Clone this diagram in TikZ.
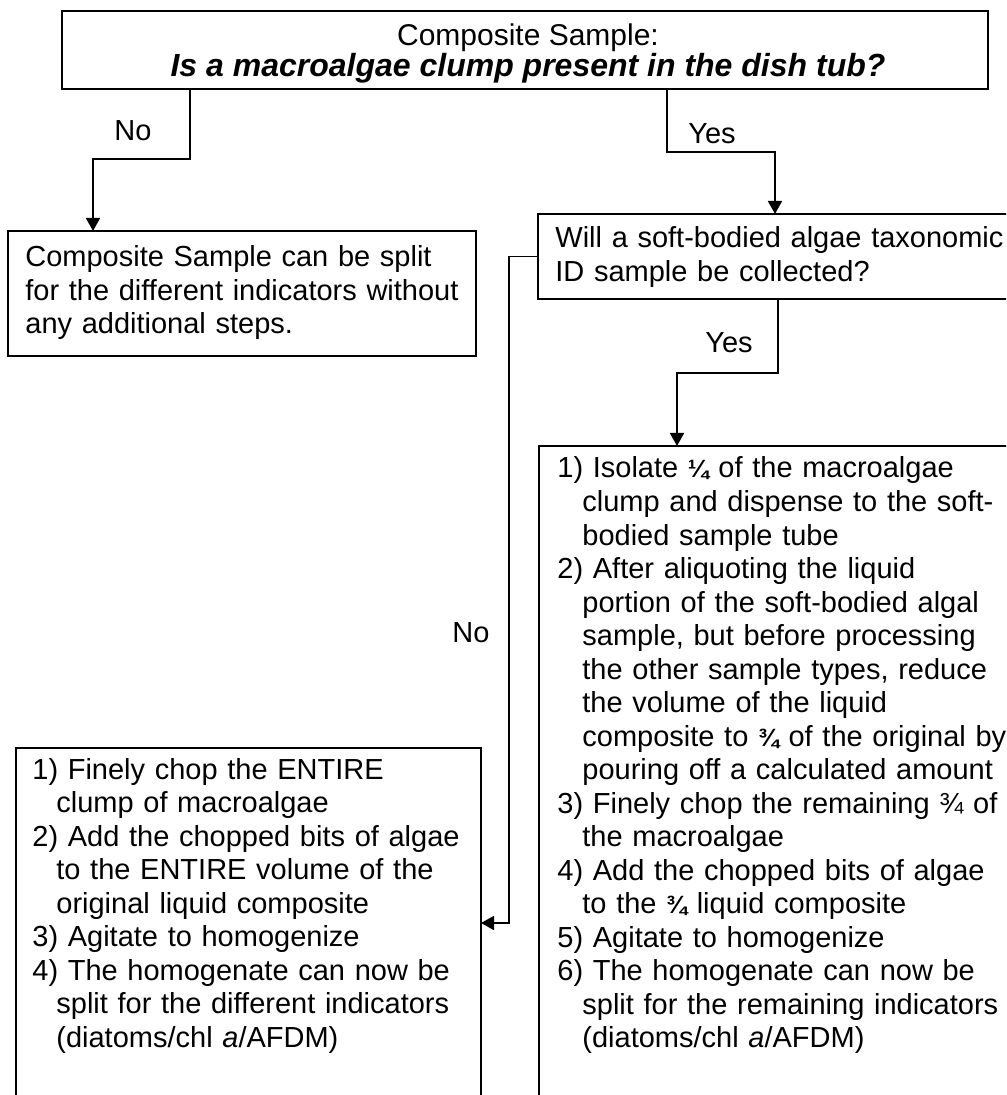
\documentclass[tikz,border=0pt]{standalone}
\usepackage{fontspec}
\setmainfont{Liberation Sans}
\usetikzlibrary{arrows.meta,calc}
\newcommand{\hgapR}{\hspace*{12.5pt}}
\newcommand{\hgapL}{\hspace*{12pt}}
\newcommand{\smfrac}[1]{{\bfseries\fontsize{12.5}{0}\selectfont #1}}
\begin{document}
\begin{tikzpicture}[x=0.5pt,y=-0.5pt,
  frame/.style={draw,line width=1pt,inner sep=0,outer sep=0,anchor=north west},
  conn/.style={line width=0.85pt},
  arr/.style={conn,-{Triangle[length=6.5pt,width=7pt]}},
  body/.style={inner sep=0,anchor=base west,align=left,text width=#1,
    font=\fontsize{14.5}{16.75}\selectfont},
  lab/.style={inner sep=0,font=\fontsize{14.5}{16.75}\selectfont}]
\useasboundingbox (0,0) rectangle (1006,1095);
\clip (0,0) rectangle (1006,1095);

% boxes
\node[frame,line width=1.2pt,minimum width=463pt,minimum height=39pt] (top) at (62,11) {};
\node[inner sep=0,align=center,font=\fontsize{15}{15.5}\selectfont] (topt)
  at ($(top.center)+(3,3)$)
  {Composite Sample:\\{\fontsize{16}{15.5}\selectfont\bfseries\itshape Is a macroalgae clump present in the dish tub?}};

\node[frame,minimum width=234pt,minimum height=62.5pt] (A) at (8,231) {};
\node[body=230pt] (At) at (25,267)
  {Composite Sample can be split\\for the different indicators without\\any additional steps.};

\node[frame,minimum width=250pt,minimum height=42.5pt] (B) at (538,214) {};
\node[body=240pt] (Bt) at (555,248)
  {Will a soft-bodied algae taxonomic\\ID sample be collected?};

\node[frame,minimum width=250pt,minimum height=340pt] (C) at (539,446) {};
\node[body=300pt] (Ct) at (557,478)
  {1) Isolate \smfrac{¼} of the macroalgae\\
   \hgapR clump and dispense to the soft-\\
   \hgapR bodied sample tube\\
   2) After aliquoting the liquid\\
   \hgapR portion of the soft-bodied algal\\
   \hgapR sample, but before processing\\
   \hgapR the other sample types, reduce\\
   \hgapR the volume of the liquid\\
   \hgapR composite to \smfrac{¾} of the original by\\
   \hgapR pouring off a calculated amount\\
   3) Finely chop the remaining ¾ of\\
   \hgapR the macroalgae\\
   4) Add the chopped bits of algae\\
   \hgapR to the \smfrac{¾} liquid composite\\
   5) Agitate to homogenize\\
   6) The homogenate can now be\\
   \hgapR split for the remaining indicators\\
   \hgapR (diatoms/chl \textit{a}/AFDM)};

\node[frame,minimum width=232.5pt,minimum height=190pt] (D) at (16,748) {};
\node[body=300pt] (Dt) at (32,779)
  {1) Finely chop the ENTIRE\\
   \hgapL clump of macroalgae\\
   2) Add the chopped bits of algae\\
   \hgapL to the ENTIRE volume of the\\
   \hgapL original liquid composite\\
   3) Agitate to homogenize\\
   4) The homogenate can now be\\
   \hgapL split for the different indicators\\
   \hgapL (diatoms/chl \textit{a}/AFDM)};

% connectors
\draw[arr] ($(top.south west)+(128,0)$) -- ++(0,70) -| ($(A.north west)+(85,0)$);
\draw[arr] ($(top.south west)+(605,0)$) -- ++(0,63) -| ($(B.north west)+(237,0)$);
\draw[arr] ($(B.south west)+(240,0)$) -- ++(0,74) -| ($(C.north west)+(138,0)$);
\draw[arr] (B.west) -| ($(D.north east)+(28,175)$) -- ($(D.north east)+(0,175)$);

% labels
\node[lab] (l1) at (133,131) {No};
\node[lab] (l2) at (712,134) {Yes};
\node[lab] (l3) at (729,343) {Yes};
\node[lab] (l4) at (471,633) {No};
\end{tikzpicture}
\end{document}
